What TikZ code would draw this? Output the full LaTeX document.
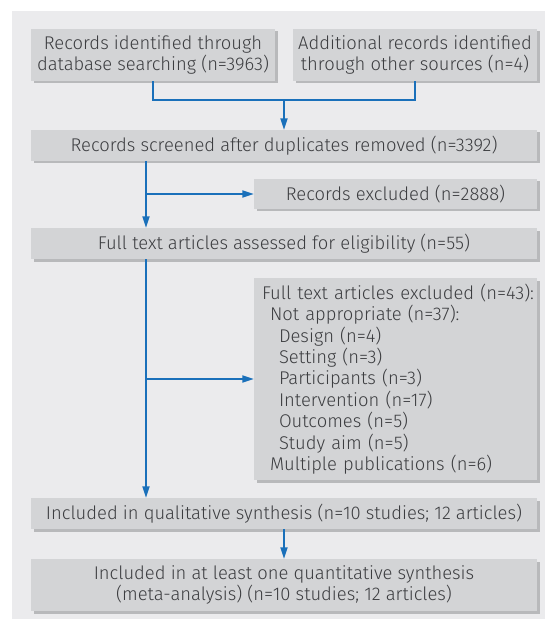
\documentclass[tikz,border=0pt]{standalone}
\usepackage{fontspec}
\setmainfont{Fira Sans Light}
\usetikzlibrary{arrows.meta,shadows,calc}
\definecolor{panel}{HTML}{EBEBED}
\definecolor{boxfill}{HTML}{D3D4D6}
\definecolor{shadowc}{HTML}{B8B9BB}
\definecolor{txt}{HTML}{3C3D40}
\definecolor{blueline}{HTML}{1A70BA}
\tikzset{
  box/.style={fill=boxfill, draw=none, inner sep=0pt, text=txt,
    font=\fontsize{18.4}{21.4}\selectfont,
    drop shadow={shadow xshift=2.5pt, shadow yshift=-2.5pt, fill=shadowc, opacity=1}},
  conn/.style={draw=blueline, line width=1.8pt},
  arr/.style={conn, -{Triangle[length=11.5pt,width=7pt]}},
}
\newcommand{\bx}[6]{% name, x1, y1, x2, y2, text
  \node[box, minimum width={(#4-#2)*1pt}, minimum height={(#5-#3)*1pt}, align=center]
    (#1) at ({(#2+#4)/2},{(#3+#5)/2}) {#6};}
\begin{document}
\begin{tikzpicture}[x=1pt,y=-1pt]
\useasboundingbox (0,0) rectangle (545,620);
\fill[panel] (12,11) rectangle (545,619);
\bx{A}{31}{29}{275}{81}{Records identified through\\database searching (n=3963)}
\bx{B}{293}{29}{537}{81}{Additional records identified\\through other sources (n=4)}
\bx{C}{31}{130}{537}{161}{Records screened after duplicates removed (n=3392)}
\bx{E}{254}{179}{537}{209}{Records excluded (n=2888)}
\bx{D}{31}{228}{537}{259}{Full text articles assessed for eligibility (n=55)}
\node[box, minimum width=283pt, minimum height=202pt, text width=267pt, align=left]
  (F) at (395.5,379) {\mbox{Full text articles excluded (n=43):}\\
  \hspace*{8pt}Not appropriate (n=37):\\
  \hspace*{17pt}Design (n=4)\\
  \hspace*{17pt}Setting (n=3)\\
  \hspace*{17pt}Participants (n=3)\\
  \hspace*{17pt}Intervention (n=17)\\
  \hspace*{17pt}Outcomes (n=5)\\
  \hspace*{17pt}Study aim (n=5)\\
  \hspace*{8pt}Multiple publications (n=6)};
\bx{G}{31}{498}{537}{529}{Included in qualitative synthesis (n=10 studies; 12 articles)}
\bx{H}{31}{559}{537}{611}{Included in at least one quantitative synthesis\\(meta-analysis) (n=10 studies; 12 articles)}
% connectors
\coordinate (j1) at (284,100);
\draw[conn] (A.south) |- (j1) -| (B.south);
\draw[arr] (j1) -- (C.north);
\coordinate (s1) at (146,161);
\draw[arr] (s1) -- (s1 |- D.north);
\draw[arr] (s1 |- E.west) -- (E.west);
\coordinate (s2) at (146,259);
\draw[arr] (s2) -- (s2 |- G.north);
\draw[arr] (s2 |- F.west) -- (F.west);
\draw[arr] (G.south) -- (H.north);
\end{tikzpicture}
\end{document}
